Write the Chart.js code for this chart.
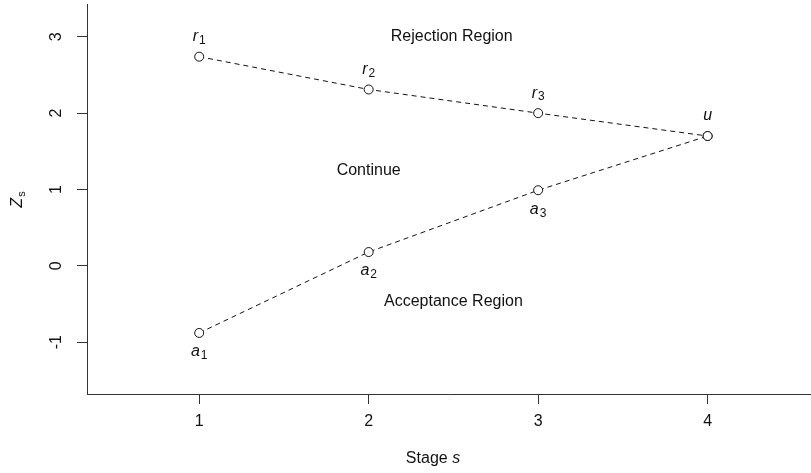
<!DOCTYPE html>
<html>
<head>
<meta charset="utf-8">
<script src="https://cdn.jsdelivr.net/npm/chart.js@4"></script>
<style>
  html, body { margin: 0; padding: 0; background: #fff; overflow: hidden; }
</style>
</head>
<body>
<canvas id="boundaryChart" width="811" height="473"></canvas>
<script>
// stages and boundary values
var stages = [1, 2, 3, 4];
var upperValues = [2.74, 2.31, 2.00, 1.70];
var lowerValues = [-0.88, 0.18, 0.99, 1.70];
var upperNames = [['r', '1'], ['r', '2'], ['r', '3'], ['u', '']];
var lowerNames = [['a', '1'], ['a', '2'], ['a', '3'], ['', '']];
var xTicks = [1, 2, 3, 4];
var yTicks = [-1, 0, 1, 2, 3];
var regionLabels = ['Rejection Region', 'Continue', 'Acceptance Region'];
var regionX = [2.49, 2.0, 2.5];
var regionY = [3.0, 1.25, -0.47];

var FONT = '"Liberation Sans", Arial, Helvetica, sans-serif';

function toPoints(vals) {
    return stages.map(function(s, i) { return { x: s, y: vals[i] }; });
}

function drawSub(ctx, name, x, y) {
    if (!name[0]) return;
    ctx.font = 'italic 16px ' + FONT;
    var w1 = ctx.measureText(name[0]).width;
    ctx.font = '12px ' + FONT;
    var w2 = name[1] ? ctx.measureText(name[1]).width + 1 : 0;
    var start = x - (w1 + w2) / 2;
    ctx.textAlign = 'left';
    ctx.textBaseline = 'middle';
    ctx.font = 'italic 16px ' + FONT;
    ctx.fillText(name[0], start, y);
    if (name[1]) {
        ctx.font = '12px ' + FONT;
        ctx.fillText(name[1], start + w1 + 1, y + 4);
    }
}

var annotate = {
    id: 'annotate',
    afterDraw: function(chart) {
        var ctx = chart.ctx;
        var xs = chart.scales.x, ys = chart.scales.y;
        ctx.save();
        ctx.fillStyle = '#111';

        // point labels
        stages.forEach(function(s, i) {
            var px = xs.getPixelForValue(s);
            drawSub(ctx, upperNames[i], px, ys.getPixelForValue(upperValues[i]) - 20);
            drawSub(ctx, lowerNames[i], px, ys.getPixelForValue(lowerValues[i]) + 19);
        });

        // region text
        ctx.font = '16px ' + FONT;
        ctx.textAlign = 'center';
        ctx.textBaseline = 'middle';
        regionLabels.forEach(function(t, i) {
            ctx.fillText(t, xs.getPixelForValue(regionX[i]), ys.getPixelForValue(regionY[i]));
        });

        // y tick labels, rotated like R
        yTicks.forEach(function(v) {
            ctx.save();
            ctx.translate(57, ys.getPixelForValue(v));
            ctx.rotate(-Math.PI / 2);
            ctx.font = '16px ' + FONT;
            ctx.textAlign = 'center';
            ctx.textBaseline = 'middle';
            ctx.fillText(String(v), 0, 0);
            ctx.restore();
        });

        // y axis title Z_s
        ctx.save();
        ctx.translate(18, 200);
        ctx.rotate(-Math.PI / 2);
        ctx.textBaseline = 'middle';
        ctx.font = 'italic 16px ' + FONT;
        var wz = ctx.measureText('Z').width;
        ctx.font = '11px ' + FONT;
        var ws = ctx.measureText('s').width;
        ctx.textAlign = 'left';
        ctx.font = 'italic 16px ' + FONT;
        ctx.fillText('Z', -(wz + ws) / 2, 0);
        ctx.font = '11px ' + FONT;
        ctx.fillText('s', -(wz + ws) / 2 + wz + 1, 4);
        ctx.restore();

        // x axis title
        ctx.font = '16px ' + FONT;
        var w1 = ctx.measureText('Stage ').width;
        ctx.font = 'italic 16px ' + FONT;
        var w2 = ctx.measureText('s').width;
        var sx = 433 - (w1 + w2) / 2;
        ctx.textAlign = 'left';
        ctx.textBaseline = 'middle';
        ctx.font = '16px ' + FONT;
        ctx.fillText('Stage ', sx, 459);
        ctx.font = 'italic 16px ' + FONT;
        ctx.fillText('s', sx + w1, 459);

        ctx.restore();
    }
};

document.addEventListener('DOMContentLoaded', function() {
    var ctx = document.getElementById('boundaryChart').getContext('2d');
    var lineStyle = {
        showLine: true,
        borderColor: '#111',
        borderWidth: 1,
        borderDash: [5, 4],
        pointRadius: 4.5,
        pointBorderWidth: 1,
        pointBackgroundColor: '#fff',
        pointBorderColor: '#111',
        tension: 0
    };
    var chart = new Chart(ctx, {
        type: 'scatter',
        data: {
            datasets: [
                Object.assign({ label: 'upper', data: toPoints(upperValues) }, lineStyle),
                Object.assign({ label: 'lower', data: toPoints(lowerValues) }, lineStyle)
            ]
        },
        options: {
            responsive: false,
            animation: false,
            layout: { autoPadding: false, padding: { top: 4, right: 0, left: 0, bottom: 0 } },
            plugins: {
                legend: { display: false },
                tooltip: { enabled: false }
            },
            scales: {
                x: {
                    type: 'linear',
                    min: 0.338,
                    max: 4.61,
                    afterBuildTicks: function(s) { s.ticks = xTicks.map(function(v) { return { value: v }; }); },
                    afterFit: function(s) { s.height = 79; s.paddingLeft = 0; s.paddingRight = 0; },
                    grid: { drawOnChartArea: false, drawTicks: true, tickLength: 10, color: '#333', tickColor: '#333' },
                    border: { display: true, color: '#333', width: 1 },
                    ticks: { color: '#111', font: { family: FONT, size: 16 }, padding: 8, maxRotation: 0 }
                },
                y: {
                    type: 'linear',
                    min: -1.68,
                    max: 3.43,
                    afterBuildTicks: function(s) { s.ticks = yTicks.map(function(v) { return { value: v }; }); },
                    afterFit: function(s) { s.width = 87; s.paddingTop = 0; s.paddingBottom = 0; },
                    grid: { drawOnChartArea: false, drawTicks: true, tickLength: 10, color: '#333', tickColor: '#333' },
                    border: { display: true, color: '#333', width: 1 },
                    ticks: { display: false }
                }
            }
        },
        plugins: [annotate]
    });
});
</script>
</body>
</html>
